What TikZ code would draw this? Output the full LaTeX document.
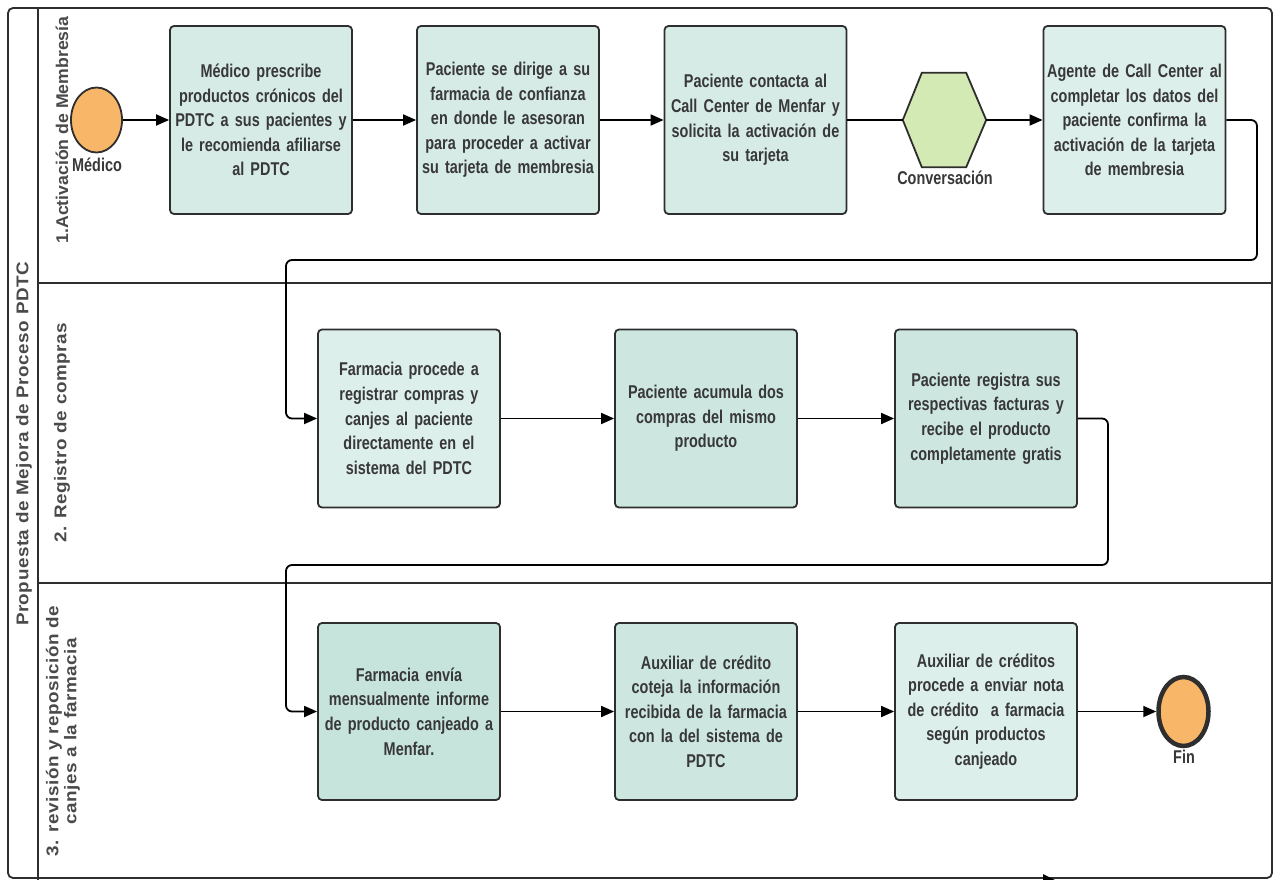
\documentclass[tikz,border=0pt]{standalone}
\usepackage{fontspec}
\setmainfont{Liberation Sans}
\newfontfamily\narrowsans[FakeStretch=0.78]{Liberation Sans}
\newfontfamily\widesans[FakeStretch=1.11,LetterSpace=3]{Liberation Sans}
\newfontfamily\tightsans[FakeStretch=1.04]{Liberation Sans}
\usetikzlibrary{arrows.meta,shapes.geometric}

\definecolor{ink}{HTML}{383838}
\definecolor{lanetext}{HTML}{4A4A4A}
\definecolor{edge}{HTML}{2E2E2E}
\definecolor{tealA}{HTML}{D6EBE6}
\definecolor{tealB}{HTML}{DDEFEB}
\definecolor{tealC}{HTML}{CDE7E0}
\definecolor{tealD}{HTML}{C6E4DC}
\definecolor{startorange}{HTML}{F8B768}
\definecolor{hexgreen}{HTML}{D3EAB5}

\newcommand\tasktext{\narrowsans\bfseries\fontsize{18.5}{24.6}\selectfont}
\newcommand\lanetitle{\widesans\bfseries\fontsize{17}{18}\selectfont}
\newcommand\lanetitletight{\tightsans\bfseries\fontsize{17}{18}\selectfont}

\begin{document}
\begin{tikzpicture}[x=1pt,y=-1pt,
  task/.style={draw=edge, line width=1.8pt, rounded corners=4pt,
    minimum width=182pt, minimum height=188pt, inner sep=0pt,
    text width=180pt, align=center, font=\tasktext, text=ink},
  flow/.style={draw=black, line width=1.8pt,
    -{Triangle[length=13pt,width=11pt]}},
  link/.style={flow, rounded corners=6pt},
  lane/.style={draw=edge, line width=1.8pt},
  lanelabel/.style={rotate=90, font=\lanetitle, text=lanetext, align=center},
  caption/.style={font=\tasktext, text=ink, inner sep=0pt},
  event/.style={ellipse, draw=edge, fill=startorange, inner sep=0pt}]

\useasboundingbox (0,0) rectangle (1274,880);
\fill[white] (0,0) rectangle (1274,880);

% pool frame, title column and lane separators
\draw[lane, rounded corners=5pt] (8,8) rectangle (1272,878);
\draw[lane] (38,8) -- (38,884);
\draw[lane] (38,283) -- (1272,283);
\draw[lane] (38,583) -- (1272,583);

\node[lanelabel] (pool) at (24,444) {Propuesta de Mejora de Proceso PDTC};
\node[lanelabel, font=\lanetitletight] (lane1) at (62,130) {1.Activación de Membresía};
\node[lanelabel] (lane2) at (62,433) {2. Registro de compras};
\node[lanelabel] (lane3) at (63,731) {3. revisión y reposición de\\canjes a la farmacia};

% lane 1: membership activation
\node[event, line width=1.8pt, minimum width=51pt, minimum height=65pt] (med) at (96.5,120) {};
\node[caption] (medlbl) at (97,165) {Médico};

\node[task, fill=tealA] (tA) at (261,120) {Médico prescribe\\productos crónicos del\\PDTC a sus pacientes y\\le recomienda afiliarse\\al PDTC};
\node[task, fill=tealA] (tB) at (508,120) {Paciente se dirige a su\\farmacia de confianza\\en donde le asesoran\\para proceder a activar\\su tarjeta de membresia};
\node[task, fill=tealA] (tC) at (755.5,120) {Paciente contacta al\\Call Center de Menfar y\\solicita la activación de\\su tarjeta};

\node[minimum width=83pt, minimum height=94pt, inner sep=0pt] (hex) at (944.5,120) {};
\draw[draw=edge, fill=hexgreen, line width=1.8pt]
  (hex.west) -- ([xshift=19pt]hex.north west) -- ([xshift=-20pt]hex.north east)
  -- (hex.east) -- ([xshift=-20pt]hex.south east) -- ([xshift=19pt]hex.south west) -- cycle;
\node[caption] (hexlbl) at (945,178) {Conversación};

\node[task, fill=tealB] (tD) at (1134.5,120) {Agente de Call Center al\\completar los datos del\\paciente confirma la\\activación de la tarjeta\\de membresia};

% lane 2: purchase registration
\node[task, fill=tealB, minimum height=178pt] (tE) at (409,418.5) {Farmacia procede a\\registrar compras y\\canjes al paciente\\directamente en el\\sistema del PDTC};
\node[task, fill=tealC, minimum height=178pt] (tF) at (706,418.5) {Paciente acumula dos\\compras del mismo\\producto};
\node[task, fill=tealC, minimum height=178pt] (tG) at (986,418.5) {Paciente registra sus\\respectivas facturas y\\recibe el producto\\completamente gratis};

% lane 3: review and replacement
\node[task, fill=tealD, minimum height=177pt] (tH) at (409,711.5) {Farmacia envía\\mensualmente informe\\de producto canjeado a\\Menfar.};
\node[task, fill=tealC, minimum height=177pt] (tI) at (706,711.5) {Auxiliar de crédito\\coteja la información\\recibida de la farmacia\\con la del sistema de\\PDTC};
\node[task, fill=tealB, minimum height=177pt] (tJ) at (986,711.5) {Auxiliar de créditos\\procede a enviar nota\\de crédito~ a farmacia\\según productos\\canjeado};

\node[event, line width=4.5pt, minimum width=50pt, minimum height=69pt] (fin) at (1183.5,711.5) {};
\node[caption] (finlbl) at (1184,757) {Fin};

% sequence flows
\draw[flow] (med.east) -- (tA.west);
\draw[flow] (tA.east) -- (tB.west);
\draw[flow] (tB.east) -- (tC.west);
\draw[draw=black, line width=1.8pt] (tC.east) -- (hex.west);
\draw[flow] (hex.east) -- (tD.west);

\coordinate (r1) at (1257,260);
\coordinate (l1) at (286,260);
\draw[link] (tD.east) -| (r1) -- (l1) |- (tE.west);

\draw[flow] (tE.east) -- (tF.west);
\draw[flow] (tF.east) -- (tG.west);

\coordinate (r2) at (1108,565);
\coordinate (l2) at (286,565);
\draw[link] (tG.east) -| (r2) -- (l2) |- (tH.west);

\draw[flow] (tH.east) -- (tI.west);
\draw[flow] (tI.east) -- (tJ.west);
\draw[flow] (tJ.east) -- (fin.west);

% arrow tip entering at the lower edge
\fill[black] (1043,874) -- (1057,881) -- (1043,888) -- cycle;
\end{tikzpicture}
\end{document}
